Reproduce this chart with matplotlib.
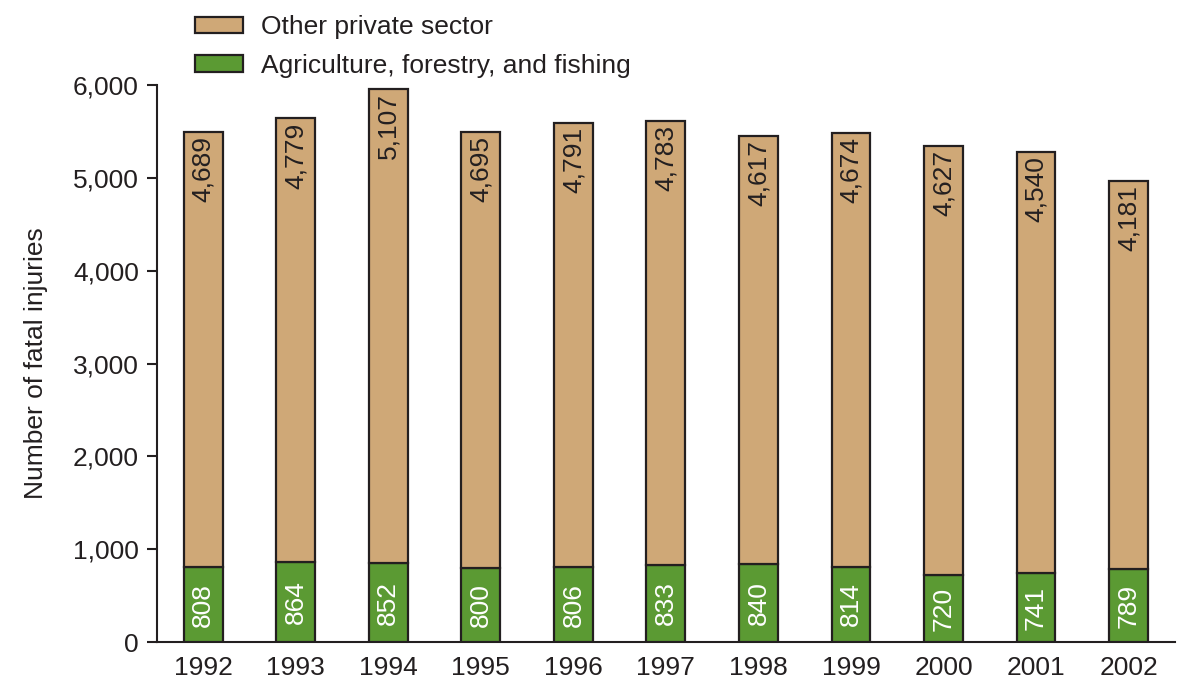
import matplotlib
matplotlib.use('Agg')
import matplotlib.pyplot as plt
import numpy as np

plt.rcParams['font.family'] = ['Liberation Sans', 'DejaVu Sans']

# data
years = ['1992', '1993', '1994', '1995', '1996', '1997', '1998', '1999', '2000', '2001', '2002']
agri = [808, 864, 852, 800, 806, 833, 840, 814, 720, 741, 789]
other = [4689, 4779, 5107, 4695, 4791, 4783, 4617, 4674, 4627, 4540, 4181]
yticks = [0, 1000, 2000, 3000, 4000, 5000, 6000]

TAN = '#CFA877'
GREEN = '#5B9A33'
DARK = '#231F20'
FS = 19

fig = plt.figure(figsize=(11.78, 6.89), dpi=100)
ax = fig.add_axes([0.1333, 0.068, 0.864, 0.8085])

x = np.arange(len(years))
w = 0.42
b1 = ax.bar(x, agri, width=w, color=GREEN, edgecolor=DARK, linewidth=1.6,
            label='Agriculture, forestry, and fishing', zorder=3)
b2 = ax.bar(x, other, width=w, bottom=agri, color=TAN, edgecolor=DARK, linewidth=1.6,
            label='Other private sector', zorder=3)

for i in range(len(years)):
    ax.text(x[i], agri[i] / 2, f'{agri[i]:,}', rotation=90, ha='center', va='center',
            color='white', fontsize=FS, zorder=4)
    ax.annotate(f'{other[i]:,}', (x[i], agri[i] + other[i]), xytext=(0, -3),
                textcoords='offset points', rotation=90, ha='center', va='top',
                color=DARK, fontsize=FS, zorder=4)

ax.set_xlim(-0.5, len(years) - 0.5)
ax.set_ylim(0, 6000)
ax.set_xticks(x)
ax.set_xticklabels(years)
ax.set_yticks(yticks)
ax.set_yticklabels([f'{v:,}' for v in yticks])
ax.tick_params(axis='y', length=7, width=1.5, color=DARK, labelsize=FS, labelcolor=DARK, pad=6)
ax.tick_params(axis='x', length=0, labelsize=FS, labelcolor=DARK, pad=10)
for s in ['top', 'right']:
    ax.spines[s].set_visible(False)
for s in ['left', 'bottom']:
    ax.spines[s].set_linewidth(1.5)
    ax.spines[s].set_color(DARK)

ax.set_ylabel('Number of fatal injuries', fontsize=FS, color=DARK, labelpad=18)

fig.legend(handles=[b2, b1], labels=['Other private sector', 'Agriculture, forestry, and fishing'],
           loc='upper left', bbox_to_anchor=(0.154, 0.997), frameon=False, fontsize=FS,
           handlelength=1.85, handleheight=0.6, handletextpad=0.65, labelspacing=0.55,
           borderaxespad=0.1, labelcolor=DARK)

fig.savefig('out.png', dpi=100)
